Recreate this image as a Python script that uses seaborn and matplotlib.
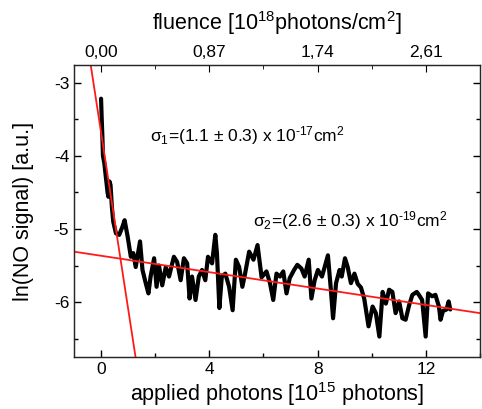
import pandas as pd
import seaborn as sb
import matplotlib
matplotlib.use('Agg')
import matplotlib.pyplot as plt
from matplotlib.ticker import MultipleLocator

# Signal (x in 10^15 photons, y = ln(NO signal))
photons = [0.00, 0.02, 0.05, 0.07, 0.12, 0.18, 0.24, 0.27, 0.31, 0.35, 0.40, 0.45,
           0.55, 0.67, 0.79, 0.87, 0.98, 1.10, 1.19, 1.28, 1.44, 1.53, 1.65, 1.75,
           1.83, 1.96, 2.05, 2.14, 2.26, 2.39, 2.51, 2.69, 2.81, 2.94, 3.06, 3.18,
           3.27, 3.36, 3.49, 3.61, 3.73, 3.85, 3.95, 4.10, 4.22, 4.28, 4.37, 4.46,
           4.59, 4.73, 4.86, 4.98, 5.10, 5.22, 5.32, 5.47, 5.63, 5.78, 5.93, 6.11,
           6.24, 6.36, 6.48, 6.61, 6.73, 6.85, 6.97, 7.13, 7.25, 7.40, 7.52, 7.67,
           7.77, 7.89, 8.01, 8.16, 8.26, 8.38, 8.48, 8.57, 8.68, 8.81, 8.89, 9.01,
           9.11, 9.23, 9.36, 9.48, 9.60, 9.72, 9.88, 10.03, 10.15, 10.28, 10.40, 10.52,
           10.64, 10.76, 10.88, 11.01, 11.13, 11.25, 11.38, 11.50, 11.66, 11.74, 11.86, 11.99,
           12.08, 12.23, 12.35, 12.48, 12.54, 12.63, 12.76, 12.84, 12.90]
ln_signal = [-3.22, -3.45, -3.75, -4.00, -4.10, -4.30, -4.50, -4.56, -4.35, -4.40, -4.70, -4.90,
             -5.06, -5.08, -4.97, -4.88, -5.10, -5.38, -5.33, -5.52, -5.17, -5.56, -5.74, -5.88,
             -5.65, -5.40, -5.79, -5.50, -5.77, -5.52, -5.65, -5.38, -5.45, -5.70, -5.40, -5.47,
             -5.95, -5.65, -5.97, -5.65, -5.56, -5.70, -5.38, -5.47, -5.08, -5.33, -6.08, -5.65,
             -5.61, -5.79, -6.11, -5.42, -5.52, -5.79, -5.61, -5.31, -5.42, -5.22, -5.66, -5.58,
             -5.74, -5.97, -5.61, -5.65, -5.58, -5.88, -5.67, -5.56, -5.49, -5.54, -5.65, -5.42,
             -5.95, -5.70, -5.56, -5.65, -5.52, -5.36, -5.79, -6.22, -5.74, -5.56, -5.65, -5.40,
             -5.52, -5.74, -5.61, -5.75, -5.80, -5.95, -6.33, -6.06, -6.15, -6.47, -5.86, -6.02,
             -5.83, -5.86, -6.15, -5.99, -6.22, -6.24, -6.04, -5.90, -5.86, -5.90, -5.97, -6.47,
             -5.88, -5.92, -5.90, -6.06, -6.24, -6.12, -6.10, -5.99, -6.10]

# Linear fits: (intercept, slope)
fit_fast = (-3.68, -2.41)
fit_slow = (-5.366, -0.056)

x_ticks = [0, 4, 8, 12]
fluence_labels = ['0,00', '0,87', '1,74', '2,61']
x_range = (-1, 14)
y_range = (-6.75, -2.76)

sb.set_style('ticks')
plt.rcParams['font.family'] = ['Liberation Sans', 'DejaVu Sans']
plt.rcParams['mathtext.fontset'] = 'custom'
plt.rcParams['mathtext.rm'] = 'Liberation Sans'
plt.rcParams['mathtext.it'] = 'Liberation Sans:italic'
plt.rcParams['axes.unicode_minus'] = False
plt.rcParams['text.color'] = 'black'
plt.rcParams['axes.labelcolor'] = 'black'
plt.rcParams['xtick.color'] = 'black'
plt.rcParams['ytick.color'] = 'black'

df = pd.DataFrame({'x': photons, 'y': ln_signal})
fits = []
for name, (b, m) in [('fast', fit_fast), ('slow', fit_slow)]:
    for xv in x_range:
        fits.append({'fit': name, 'x': xv, 'y': b + m * xv})
fit_df = pd.DataFrame(fits)

fig = plt.figure(figsize=(4.82, 4.09), dpi=100)
ax = fig.add_axes([0.1535, 0.127, 0.8425, 0.714])

sb.lineplot(data=df, x='x', y='y', ax=ax, color='black', lw=3.0,
            sort=False, estimator=None)
sb.lineplot(data=fit_df, x='x', y='y', units='fit', estimator=None, ax=ax,
            color='#ff1a1a', lw=1.3)

ax.set_xlim(*x_range)
ax.set_ylim(*y_range)
ax.set_xticks(x_ticks)
ax.xaxis.set_minor_locator(MultipleLocator(2))
ax.yaxis.set_major_locator(MultipleLocator(1))
ax.yaxis.set_minor_locator(MultipleLocator(0.5))
ax.tick_params(which='both', direction='in', right=True, labelsize=12.5, width=1)
ax.tick_params(which='major', length=5)
ax.tick_params(which='minor', length=3)
ax.set_xlabel('applied photons [10$^{15}$ photons]', fontsize=15.5, labelpad=2)
ax.set_ylabel('ln(NO signal) [a.u.]', fontsize=15.5, labelpad=14)
for s in ax.spines.values():
    s.set_linewidth(1.0)
    s.set_color('#333333')

top = ax.twiny()
top.set_xlim(*x_range)
top.set_xticks(x_ticks)
top.set_xticklabels(fluence_labels)
top.xaxis.set_minor_locator(MultipleLocator(2))
top.tick_params(which='both', direction='in', labelsize=12.5)
top.tick_params(which='major', length=5)
top.tick_params(which='minor', length=3)
top.set_xlabel('fluence [10$^{18}$photons/cm$^2$]', fontsize=15.5, labelpad=11)

ax.text(1.8, -3.72, r'σ$_1$=(1.1 ± 0.3) x 10$^{\text{-}17}$cm$^2$',
        fontsize=12.5, va='center')
ax.text(5.6, -4.88, r'σ$_2$=(2.6 ± 0.3) x 10$^{\text{-}19}$cm$^2$',
        fontsize=12.5, va='center')

plt.savefig('out.png', dpi=100)
